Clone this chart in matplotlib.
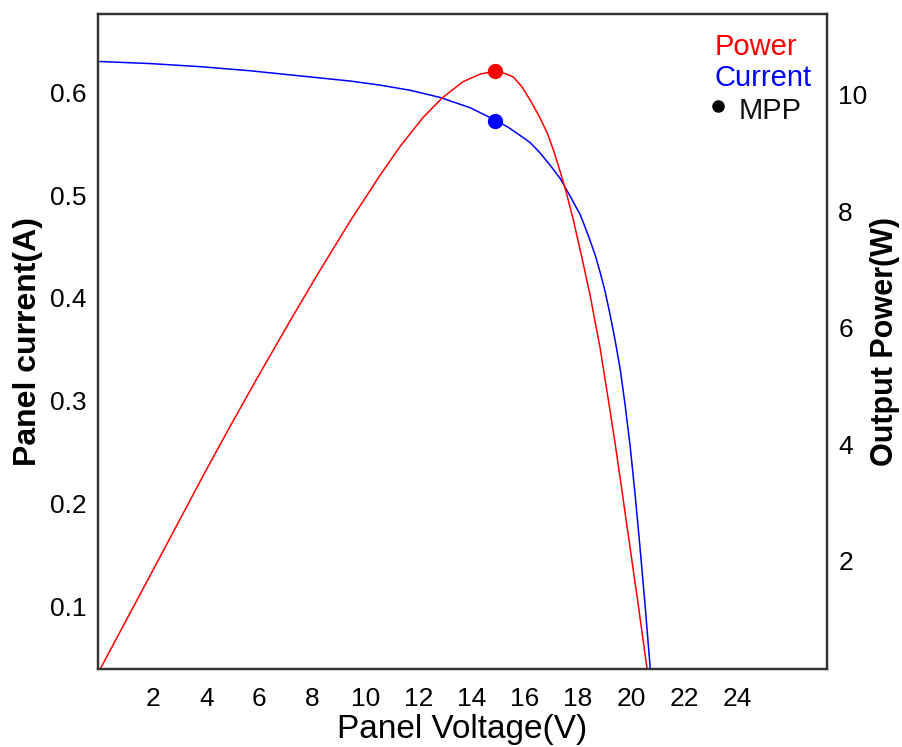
"""
Solar panel I-V and P-V curves with the maximum power point (MPP)
"""
import numpy as np
import matplotlib.pyplot as plt

plt.rcParams['font.family'] = ['Liberation Sans', 'DejaVu Sans']

# current curve: voltage (V), current (A)
v_cur = [0.00, 1.88, 3.77, 5.65, 7.53, 9.42, 10.55, 11.68, 12.81, 13.94,
         14.88, 15.37, 15.82, 16.20, 16.57, 16.95, 17.33, 17.70, 18.08,
         18.38, 18.64, 18.83, 19.02, 19.21, 19.40, 19.59, 19.77, 19.96,
         20.15, 20.34, 20.53, 20.72, 20.84]
i_cur = [0.630, 0.628, 0.625, 0.621, 0.616, 0.611, 0.607, 0.602, 0.595,
         0.585, 0.573, 0.566, 0.558, 0.551, 0.541, 0.529, 0.516, 0.499,
         0.481, 0.461, 0.442, 0.425, 0.406, 0.383, 0.358, 0.330, 0.296,
         0.256, 0.208, 0.155, 0.099, 0.039, 0.0]

# power curve: voltage (V), power (W)
v_pow = [0.00, 2.26, 3.95, 4.90, 5.91, 7.16, 8.17, 9.42, 10.55, 11.30,
         12.17, 12.88, 13.67, 14.31, 14.88, 15.25, 15.56, 15.89, 16.20,
         16.53, 16.84, 17.10, 17.33, 17.55, 17.82, 18.15, 18.46, 18.83,
         19.13, 19.40, 19.66, 19.96, 20.23, 20.42, 20.60, 20.64]
p_pow = [0.14, 2.07, 3.52, 4.31, 5.13, 6.12, 6.90, 7.83, 8.62, 9.11, 9.61,
         9.94, 10.22, 10.35, 10.40, 10.36, 10.30, 10.13, 9.90, 9.63, 9.34,
         9.01, 8.67, 8.33, 7.85, 7.19, 6.54, 5.65, 4.79, 4.00, 3.18, 2.22,
         1.36, 0.74, 0.14, 0.00]

# maximum power point
v_mpp = 14.88
i_mpp = 0.572
p_mpp = 10.40

x_ticks = [2, 4, 6, 8, 10, 12, 14, 16, 18, 20, 22, 24]
i_ticks = [0.1, 0.2, 0.3, 0.4, 0.5, 0.6]
p_ticks = [2, 4, 6, 8, 10]

fig = plt.figure(figsize=(9.03, 7.47), dpi=100)
ax = fig.add_axes([0.1085, 0.1044, 0.8075, 0.8768])
ax2 = ax.twinx()

ax.plot(v_cur, i_cur, color='#0000ff', lw=1.1)
ax.plot(v_mpp, i_mpp, 'o', color='#0000ff', ms=10)
ax2.plot(v_pow, p_pow, color='#ff0000', lw=1.1)
ax2.plot(v_mpp, p_mpp, 'o', color='#ff0000', ms=10)

ax.set_xlim(-0.08, 27.38)
ax.set_ylim(0.0388, 0.6762)
ax2.set_ylim(0.144, 11.38)

ax.set_xticks(x_ticks)
ax.set_yticks(i_ticks)
ax2.set_yticks(p_ticks)
ax.set_xticklabels([str(t) for t in x_ticks])
ax.set_yticklabels(['%.1f' % t for t in i_ticks])
ax2.set_yticklabels([str(t) for t in p_ticks])

ax.tick_params(axis='x', length=0, pad=13, labelsize=19)
ax.tick_params(axis='y', length=0, pad=8, labelsize=19)
ax2.tick_params(axis='y', length=0, pad=8, labelsize=19)

for a in (ax, ax2):
    for s in a.spines.values():
        s.set_color('#333333')
        s.set_linewidth(1.6)

ax.set_xlabel('Panel Voltage(V)', fontsize=24, labelpad=2)
ax.set_ylabel('Panel current(A)', fontsize=23, fontweight='bold', labelpad=5)
ax2.set_ylabel('Output Power(W)', fontsize=22, fontweight='bold', labelpad=2)

# legend drawn as coloured labels
ax.text(0.846, 0.937, 'Power', color='#ff0000', fontsize=21, transform=ax.transAxes)
ax.text(0.846, 0.890, 'Current', color='#0000ff', fontsize=21, transform=ax.transAxes)
ax.text(0.878, 0.840, 'MPP', color='#111111', fontsize=21, transform=ax.transAxes)
ax.plot([0.850], [0.860], 'o', color='black', ms=8, transform=ax.transAxes, clip_on=False)

fig.savefig('out.png', dpi=100)
